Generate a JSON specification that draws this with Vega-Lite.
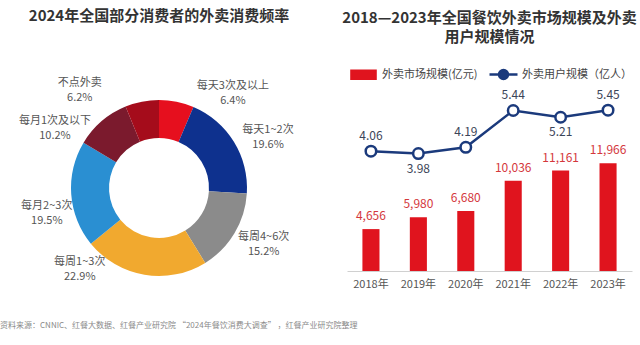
{
  "$schema": "https://vega.github.io/schema/vega-lite/v6.json",
  "padding": {"left": 0, "top": 8, "right": 0, "bottom": 0},
  "background": "white",
  "config": {
    "font": "Noto Sans CJK SC",
    "view": {"stroke": null},
    "legend": {"layout": {"top": {"anchor": "middle"}}},
    "text": {"fontSize": 11, "color": "#555555", "baseline": "middle", "align": "center"}
  },
  "title": {
    "text": "资料来源：CNNIC、红餐大数据、红餐产业研究院 “2024年餐饮消费大调查” ，红餐产业研究院整理",
    "orient": "bottom",
    "anchor": "start",
    "fontSize": 8,
    "fontWeight": "normal",
    "color": "#8a8a8a",
    "offset": 2
  },
  "bounds": "flush",
  "spacing": 29,
  "resolve": {"scale": {"color": "independent"}, "legend": {"color": "independent"}},
  "hconcat": [
    {
      "width": 318,
      "height": 194,
      "title": {
        "text": "2024年全国部分消费者的外卖消费频率",
        "fontSize": 15,
        "fontWeight": "bold",
        "color": "#333333",
        "offset": 30,
        "anchor": "middle"
      },
      "data": {
        "values": [
          {"cat": "每天3次及以上", "share": 0.064, "idx": 1},
          {"cat": "每天1~2次", "share": 0.196, "idx": 2},
          {"cat": "每周4~6次", "share": 0.152, "idx": 3},
          {"cat": "每周1~3次", "share": 0.229, "idx": 4},
          {"cat": "每月2~3次", "share": 0.195, "idx": 5},
          {"cat": "每月1次及以下", "share": 0.102, "idx": 6},
          {"cat": "不点外卖", "share": 0.062, "idx": 7}
        ]
      },
      "encoding": {
        "theta": {"field": "share", "type": "quantitative", "stack": true},
        "order": {"field": "idx", "type": "quantitative"}
      },
      "layer": [
        {
          "mark": {"type": "arc", "innerRadius": 50, "outerRadius": 88},
          "encoding": {
            "color": {
              "field": "cat",
              "type": "nominal",
              "scale": {
                "domain": ["每天3次及以上", "每天1~2次", "每周4~6次", "每周1~3次", "每月2~3次", "每月1次及以下", "不点外卖"],
                "range": ["#e60f1e", "#0e318e", "#8b8b8b", "#f1a92f", "#2a8fd2", "#7b1a2d", "#a50c1b"]
              },
              "legend": null
            }
          }
        },
        {"mark": {"type": "text", "radius": 120, "thetaOffset": 0.4625, "dy": -7.5}, "encoding": {"text": {"condition": {"test": "datum.idx == 1", "field": "cat", "type": "nominal"}, "value": ""}}},
        {"mark": {"type": "text", "radius": 120, "thetaOffset": 0.4625, "dy": 7.5}, "encoding": {"text": {"condition": {"test": "datum.idx == 1", "field": "share", "type": "quantitative", "format": ".1%"}, "value": ""}}},
        {"mark": {"type": "text", "radius": 120, "thetaOffset": 0.122, "dy": -7.5}, "encoding": {"text": {"condition": {"test": "datum.idx == 2", "field": "cat", "type": "nominal"}, "value": ""}}},
        {"mark": {"type": "text", "radius": 120, "thetaOffset": 0.122, "dy": 7.5}, "encoding": {"text": {"condition": {"test": "datum.idx == 2", "field": "share", "type": "quantitative", "format": ".1%"}, "value": ""}}},
        {"mark": {"type": "text", "radius": 119, "thetaOffset": -0.044, "dy": -7.5}, "encoding": {"text": {"condition": {"test": "datum.idx == 3", "field": "cat", "type": "nominal"}, "value": ""}}},
        {"mark": {"type": "text", "radius": 119, "thetaOffset": -0.044, "dy": 7.5}, "encoding": {"text": {"condition": {"test": "datum.idx == 3", "field": "share", "type": "quantitative", "format": ".1%"}, "value": ""}}},
        {"mark": {"type": "text", "radius": 114, "thetaOffset": 0.602, "dy": -7.5}, "encoding": {"text": {"condition": {"test": "datum.idx == 4", "field": "cat", "type": "nominal"}, "value": ""}}},
        {"mark": {"type": "text", "radius": 114, "thetaOffset": 0.602, "dy": 7.5}, "encoding": {"text": {"condition": {"test": "datum.idx == 4", "field": "share", "type": "quantitative", "format": ".1%"}, "value": ""}}},
        {"mark": {"type": "text", "radius": 115, "thetaOffset": -0.148, "dy": -7.5}, "encoding": {"text": {"condition": {"test": "datum.idx == 5", "field": "cat", "type": "nominal"}, "value": ""}}},
        {"mark": {"type": "text", "radius": 115, "thetaOffset": -0.148, "dy": 7.5}, "encoding": {"text": {"condition": {"test": "datum.idx == 5", "field": "share", "type": "quantitative", "format": ".1%"}, "value": ""}}},
        {"mark": {"type": "text", "radius": 120, "thetaOffset": -0.339, "dy": -7.5}, "encoding": {"text": {"condition": {"test": "datum.idx == 6", "field": "cat", "type": "nominal"}, "value": ""}}},
        {"mark": {"type": "text", "radius": 120, "thetaOffset": -0.339, "dy": 7.5}, "encoding": {"text": {"condition": {"test": "datum.idx == 6", "field": "share", "type": "quantitative", "format": ".1%"}, "value": ""}}},
        {"mark": {"type": "text", "radius": 126, "thetaOffset": -0.485, "dy": -7.5}, "encoding": {"text": {"condition": {"test": "datum.idx == 7", "field": "cat", "type": "nominal"}, "value": ""}}},
        {"mark": {"type": "text", "radius": 126, "thetaOffset": -0.485, "dy": 7.5}, "encoding": {"text": {"condition": {"test": "datum.idx == 7", "field": "share", "type": "quantitative", "format": ".1%"}, "value": ""}}}
      ]
    },
    {
      "width": 285,
      "height": 180,
      "title": {
        "text": ["2018—2023年全国餐饮外卖市场规模及外卖", "用户规模情况"],
        "fontSize": 15,
        "fontWeight": "bold",
        "color": "#333333",
        "lineHeight": 19,
        "offset": 14,
        "anchor": "middle"
      },
      "data": {
        "values": [
          {"year": "2018年", "market": 4656, "users": 4.06},
          {"year": "2019年", "market": 5980, "users": 3.98},
          {"year": "2020年", "market": 6680, "users": 4.19},
          {"year": "2021年", "market": 10036, "users": 5.44},
          {"year": "2022年", "market": 11161, "users": 5.21},
          {"year": "2023年", "market": 11966, "users": 5.45}
        ]
      },
      "encoding": {
        "x": {
          "field": "year",
          "type": "ordinal",
          "scale": {"paddingInner": 0.64, "paddingOuter": 0.325},
          "axis": {"title": null, "labelAngle": 0, "ticks": false, "labelFontSize": 11, "labelColor": "#555555", "domainColor": "#d0d0d0", "labelPadding": 7, "grid": false}
        }
      },
      "layer": [
        {
          "mark": {"type": "bar"},
          "encoding": {
            "y": {"field": "market", "type": "quantitative", "scale": {"domain": [0, 20000]}, "axis": null},
            "color": {
              "datum": "外卖市场规模(亿元)",
              "type": "nominal",
              "scale": {"domain": ["外卖市场规模(亿元)", "外卖用户规模（亿人）"], "range": ["#e0141e", "#1b3a7c"]},
              "legend": {
                "orient": "top",
                "direction": "horizontal",
                "title": null,
                "symbolSize": 784,
                "labelFontSize": 11,
                "labelColor": "#444444",
                "labelOffset": 3,
                "columnPadding": 6,
                "offset": 7,
                "encode": {
                  "symbols": {
                    "update": {
                      "shape": {"signal": "datum.value === '外卖市场规模(亿元)' ? 'M-0.86,-0.29H0.86V0.29H-0.86Z' : 'M-1,0H-0.32M0.32,0H1M0.32,0A0.32,0.32,0,1,1,-0.32,0A0.32,0.32,0,1,1,0.32,0'"},
                      "fill": {"signal": "datum.value === '外卖市场规模(亿元)' ? '#e0141e' : '#ffffff'"},
                      "stroke": {"signal": "datum.value === '外卖市场规模(亿元)' ? '#e0141e' : '#1b3a7c'"},
                      "strokeWidth": {"value": 2.5},
                      "opacity": {"value": 1}
                    }
                  }
                }
              }
            }
          }
        },
        {
          "mark": {"type": "text", "dy": -13, "fontSize": 12, "color": "#d4373c"},
          "encoding": {
            "y": {"field": "market", "type": "quantitative", "scale": {"domain": [0, 20000]}, "axis": null},
            "text": {"field": "market", "type": "quantitative", "format": ","}
          }
        },
        {
          "mark": {"type": "line", "strokeWidth": 2.5},
          "encoding": {
            "y": {"field": "users", "type": "quantitative", "scale": {"domain": [0, 6.1]}, "axis": null},
            "color": {"datum": "外卖用户规模（亿人）", "type": "nominal"}
          }
        },
        {
          "mark": {"type": "point", "filled": true, "fill": "#ffffff", "stroke": "#1b3a7c", "strokeWidth": 2.5, "size": 110, "opacity": 1},
          "encoding": {
            "y": {"field": "users", "type": "quantitative", "scale": {"domain": [0, 6.1]}, "axis": null}
          }
        },
        {
          "transform": [{"filter": "datum.year !== '2019年' && datum.year !== '2022年'"}],
          "mark": {"type": "text", "dy": -15, "fontSize": 12, "color": "#3b4558"},
          "encoding": {
            "y": {"field": "users", "type": "quantitative", "scale": {"domain": [0, 6.1]}, "axis": null},
            "text": {"field": "users", "type": "quantitative", "format": ".2f"}
          }
        },
        {
          "transform": [{"filter": "datum.year === '2019年' || datum.year === '2022年'"}],
          "mark": {"type": "text", "dy": 15, "fontSize": 12, "color": "#3b4558"},
          "encoding": {
            "y": {"field": "users", "type": "quantitative", "scale": {"domain": [0, 6.1]}, "axis": null},
            "text": {"field": "users", "type": "quantitative", "format": ".2f"}
          }
        }
      ],
      "resolve": {"scale": {"y": "independent"}}
    }
  ]
}
